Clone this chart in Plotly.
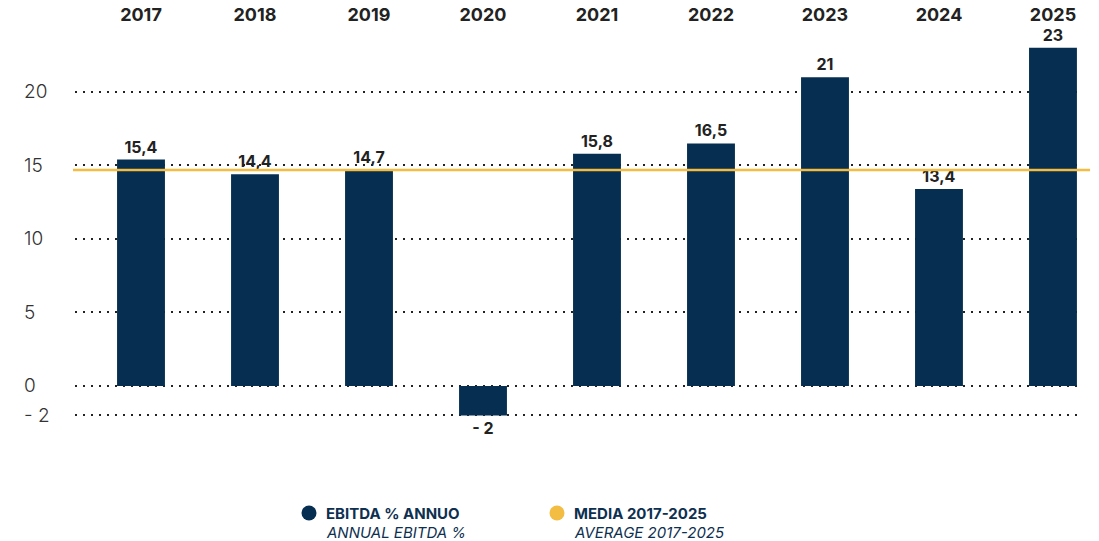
import plotly.graph_objects as go

# EBITDA margin per year (%)
years = ["2017", "2018", "2019", "2020", "2021", "2022", "2023", "2024", "2025"]
ebitda = [15.4, 14.4, 14.7, -2, 15.8, 16.5, 21, 13.4, 23]
y_ticks = [-2, 0, 5, 10, 15, 20]
y_tick_labels = ["- 2", "0", "5", "10", "15", "20"]
legend_titles = ["EBITDA % ANNUO", "MEDIA 2017-2025"]
legend_subtitles = ["ANNUAL EBITDA %", "AVERAGE 2017-2025"]

NAVY = "#052e50"
YELLOW = "#f2bd42"
INK = "#222222"
LEGEND_INK = "#0e3050"
FONT = "Inter"

# plot area in pixels
W, H = 1099, 541
L, R, T, B = 75, 19, 28, 10
PW, PH = W - L - R, H - T - B

average = sum(ebitda) / len(ebitda)


def fmt(v):
    s = f"{abs(v):g}".replace(".", ",")
    return f"- {s}" if v < 0 else s


def px_x(px):
    return (px - L) / PW


def px_y(py):
    return (H - B - py) / PH


fig = go.Figure()

fig.add_trace(go.Bar(
    x=years,
    y=ebitda,
    width=0.42,
    marker=dict(color=NAVY, line=dict(width=0)),
    text=[fmt(v) for v in ebitda],
    textposition="outside",
    cliponaxis=False,
    textfont=dict(family=FONT, size=16, color=INK, weight=700),
    showlegend=False,
    hoverinfo="skip",
))

# average line across the chart
fig.add_shape(
    type="line", xref="paper", yref="y",
    x0=-0.002, x1=1.01, y0=average, y1=average,
    line=dict(color=YELLOW, width=2.5),
    layer="above",
)

# y tick labels, left aligned
for v, lab in zip(y_ticks, y_tick_labels):
    fig.add_annotation(
        xref="paper", yref="y", x=px_x(22), y=v,
        text=lab, showarrow=False, xanchor="left", yanchor="middle",
        font=dict(family=FONT, size=19, color="#333333", weight=300),
    )

# legend: round swatch, bold title and italic subtitle
for i, (col, title, sub) in enumerate(zip([NAVY, YELLOW], legend_titles, legend_subtitles)):
    dot_x = 309 + i * 248
    fig.add_shape(
        type="circle", xref="paper", yref="paper",
        xsizemode="pixel", ysizemode="pixel",
        xanchor=px_x(dot_x), yanchor=px_y(513),
        x0=-7.5, x1=7.5, y0=-7.5, y1=7.5,
        fillcolor=col, line=dict(width=0),
    )
    fig.add_annotation(
        xref="paper", yref="paper", x=px_x(dot_x + 16), y=px_y(513),
        text=f"<b>{title}</b>", showarrow=False, xanchor="left", yanchor="middle",
        height=17, borderpad=0,
        font=dict(family=FONT, size=15, color=LEGEND_INK),
    )
    fig.add_annotation(
        xref="paper", yref="paper", x=px_x(dot_x + 16), y=px_y(532),
        text=f"<i>{sub}</i>", showarrow=False, xanchor="left", yanchor="middle",
        height=17, borderpad=0,
        font=dict(family=FONT, size=15, color=LEGEND_INK),
    )

fig.update_layout(
    width=W, height=H,
    margin=dict(l=L, r=R, t=T, b=B),
    paper_bgcolor="white",
    plot_bgcolor="white",
    font=dict(family=FONT, color=INK),
    showlegend=False,
    xaxis=dict(
        side="top",
        type="category",
        range=[-0.579, 8.237],
        automargin=False,
        showgrid=False,
        zeroline=False,
        showline=False,
        ticks="",
        ticklabelstandoff=2,
        tickfont=dict(family=FONT, size=18, color=INK, weight=700),
    ),
    yaxis=dict(
        range=[-9.864, 24.35],
        automargin=False,
        tickvals=y_ticks,
        showticklabels=False,
        showgrid=True,
        gridcolor="#222222",
        gridwidth=2,
        griddash="2px,6px",
        zeroline=False,
        showline=False,
        ticks="",
    ),
)

fig.write_html("out.html")
